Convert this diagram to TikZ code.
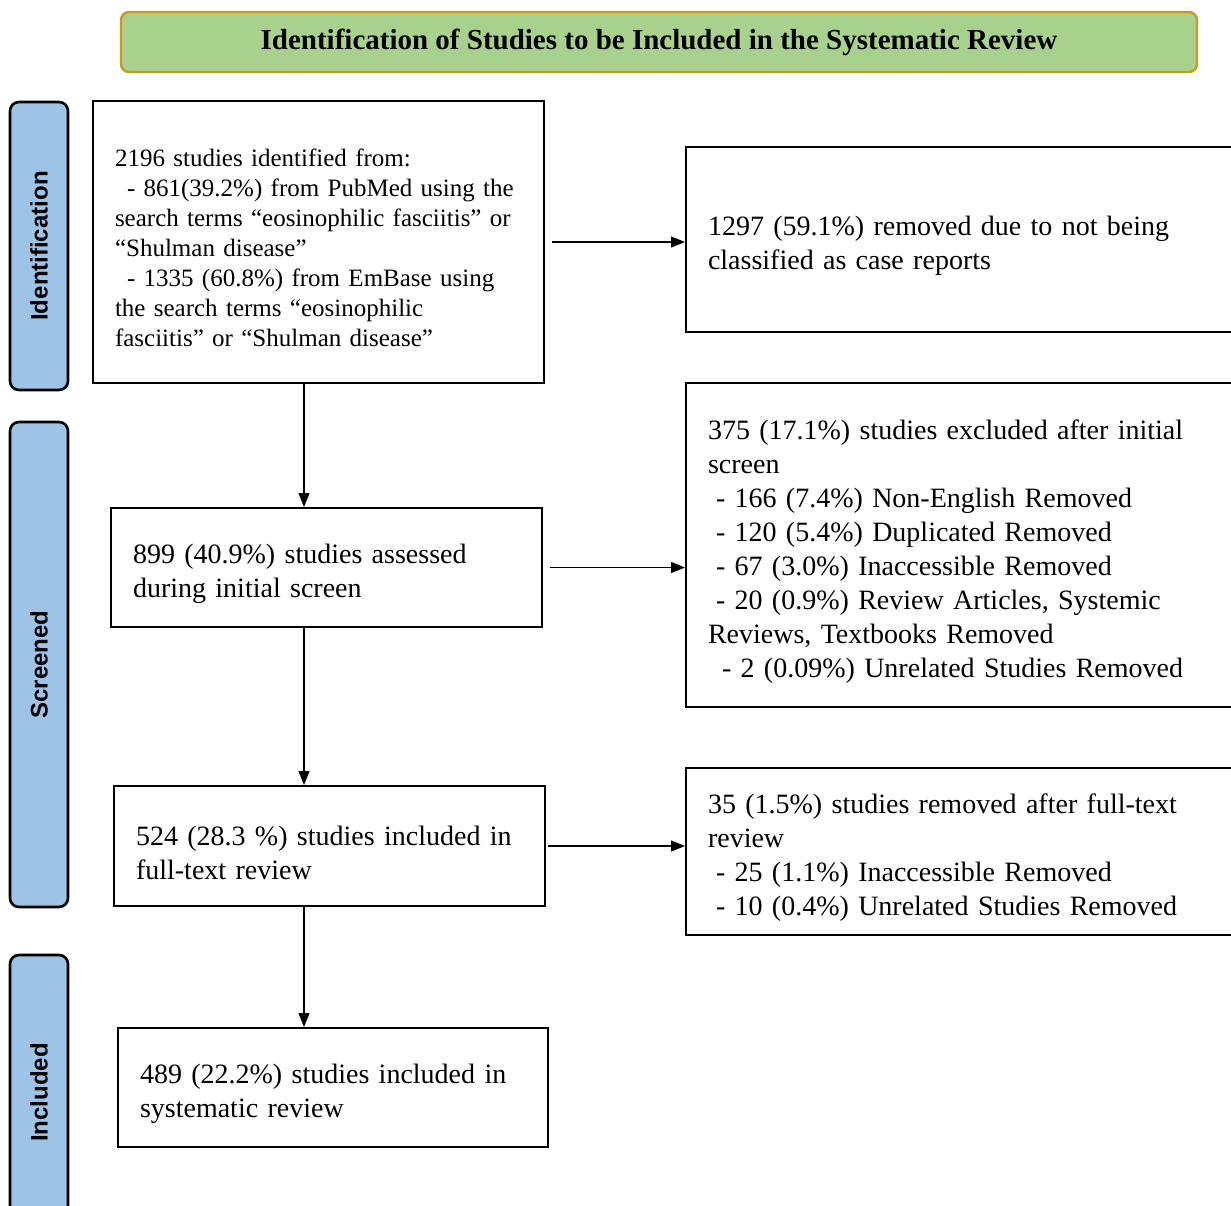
\documentclass[tikz,border=0pt]{standalone}
\usepackage{fontspec}
\setmainfont{Liberation Serif}
\setsansfont{Liberation Sans}
\usepackage{xcolor}
\usetikzlibrary{arrows.meta}
\definecolor{headgreen}{HTML}{A9D18E}
\definecolor{headgold}{HTML}{C99A1E}
\definecolor{phaseblue}{HTML}{9DC3E6}

% pushes the first line a little lower in its box
\newcommand{\lowstart}{\rule{0pt}{1.16em}}

\tikzset{
  studybox/.style={draw, line width=2pt, align=left, inner xsep=22pt, inner ysep=6pt,
    font=\fontsize{28}{34}\selectfont},
  phasetag/.style={draw, line width=2.6pt, fill=phaseblue, rounded corners=9pt,
    minimum height=58pt, font=\fontsize{24}{28}\sffamily\bfseries, rotate=90},
  flowarrow/.style={line width=1.2pt, -{Triangle[length=14pt,width=11pt]}}
}

\begin{document}
\begin{tikzpicture}[x=1pt,y=-1pt]
  \clip (0,0) rectangle (1231,1205);
  \fill[white] (0,0) rectangle (1231,1205);

  % title bar
  \node[draw=headgold, line width=2.4pt, fill=headgreen, rounded corners=8pt,
        minimum width=1076pt, minimum height=60pt,
        font=\fontsize{29}{32}\selectfont\bfseries]
        (title) at (659,42) {Identification of Studies to be Included in the Systematic Review};

  % phases on the left
  \node[phasetag, minimum width=288pt] (phaseid) at (39,246) {Identification};
  \node[phasetag, minimum width=485pt] (phasescr) at (39,664.5) {Screened};
  \node[phasetag, minimum width=275pt] (phaseinc) at (39,1092.5) {Included};

  % main column
  \node[studybox, text width=407pt, minimum height=282pt,
        font=\fontsize{25}{30}\selectfont] (found) at (318.5,242) {
    \lowstart 2196 studies identified from:\\
    \hspace*{12pt}- 861(39.2\%) from PubMed using the\\
    search terms “eosinophilic fasciitis” or\\
    “Shulman disease”\\
    \hspace*{12pt}- 1335 (60.8\%) from EmBase using\\
    the search terms “eosinophilic\\
    fasciitis” or “Shulman disease”};
  \node[studybox, text width=387pt, minimum height=119pt] (screen) at (326.5,567.5) {
    \lowstart 899 (40.9\%) studies assessed\\
    during initial screen};
  \node[studybox, text width=387pt, minimum height=120pt] (fulltext) at (329.5,846) {
    \lowstart 524 (28.3 \%) studies included in\\
    full-text review};
  \node[studybox, text width=386pt, minimum height=119pt] (final) at (333,1087.5) {
    \lowstart 489 (22.2\%) studies included in\\
    systematic review};

  % exclusions on the right
  \node[studybox, text width=536pt, minimum height=185pt] (notcase) at (976,239.5) {
    \lowstart 1297 (59.1\%) removed due to not being\\
    classified as case reports};
  \node[studybox, text width=536pt, minimum height=324pt] (excl) at (976,545) {
    \lowstart 375 (17.1\%) studies excluded after initial\\
    screen\\
    \hspace*{8pt}- 166 (7.4\%) Non-English Removed\\
    \hspace*{8pt}- 120 (5.4\%) Duplicated Removed\\
    \hspace*{8pt}- 67 (3.0\%) Inaccessible Removed\\
    \hspace*{8pt}- 20 (0.9\%) Review Articles, Systemic\\
    Reviews, Textbooks Removed\\
    \hspace*{14pt}- 2 (0.09\%) Unrelated Studies Removed};
  \node[studybox, text width=536pt, minimum height=167pt] (ftexcl) at (976,851.5) {
    \lowstart 35 (1.5\%) studies removed after full-text\\
    review\\
    \hspace*{8pt}- 25 (1.1\%) Inaccessible Removed\\
    \hspace*{8pt}- 10 (0.4\%) Unrelated Studies Removed};

  % connectors
  \coordinate (vline) at (304,0);
  \draw[flowarrow] (found.south -| vline) -- (screen.north -| vline);
  \draw[flowarrow] (screen.south -| vline) -- (fulltext.north -| vline);
  \draw[flowarrow] (fulltext.south -| vline) -- (final.north -| vline);
  \draw[flowarrow] ([xshift=7pt]found.east) -- (notcase.west |- found.east);
  \draw[flowarrow] ([xshift=7pt]screen.east) -- (excl.west |- screen.east);
  \draw[flowarrow] ([xshift=2pt]fulltext.east) -- (ftexcl.west |- fulltext.east);
\end{tikzpicture}
\end{document}
